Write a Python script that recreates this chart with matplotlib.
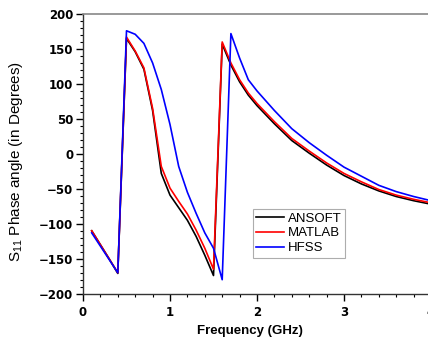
import matplotlib
matplotlib.use("Agg")
import matplotlib.pyplot as plt
from matplotlib.ticker import MultipleLocator

plt.rcParams['font.family'] = ['Liberation Sans', 'DejaVu Sans']
plt.rcParams['mathtext.fontset'] = 'custom'
plt.rcParams['mathtext.rm'] = 'Liberation Sans'

freq = [0.1, 0.2, 0.3, 0.4, 0.5, 0.6, 0.7, 0.8, 0.9, 1.0, 1.1, 1.2, 1.3, 1.4, 1.5,
        1.6, 1.7, 1.8, 1.9, 2.0, 2.2, 2.4, 2.6, 2.8, 3.0, 3.2, 3.4, 3.6, 3.8, 4.0, 4.2, 4.4]

ansoft = [-110, -130, -150, -171, 165, 146, 121, 62, -28, -59, -77, -95, -118, -145, -174,
          157, 127, 103, 84, 69, 43, 19, 1, -16, -31, -43, -53, -61, -67, -72, -76, -80]
matlab = [-110, -130, -150, -170, 167, 147, 123, 65, -18, -49, -68, -86, -109, -135, -165,
          160, 130, 106, 87, 72, 46, 22, 4, -13, -28, -40, -51, -59, -65, -70, -74, -78]
hfss = [-113, -132, -151, -170, 176, 171, 158, 130, 92, 42, -18, -55, -85, -113, -135,
        -180, 172, 137, 106, 90, 62, 36, 16, -2, -19, -32, -45, -54, -61, -67, -72, -76]

series_names = ['ANSOFT', 'MATLAB', 'HFSS']
series_colors = ['black', 'red', 'blue']

W, H = 428, 349
fig = plt.figure(figsize=(W / 100, H / 100), dpi=100)
left, bottom, top = 83, 55.3, 335
xmax = 4.5
width = 87 * xmax
ax = fig.add_axes([left / W, bottom / H, width / W, (top - bottom) / H])

for vals, name, col in zip([ansoft, matlab, hfss], series_names, series_colors):
    ax.plot(freq, vals, color=col, lw=1.2, label=name)

ax.set_xlim(0, xmax)
ax.set_ylim(-200, 200)
ax.xaxis.set_major_locator(MultipleLocator(1))
ax.xaxis.set_minor_locator(MultipleLocator(0.2))
ax.yaxis.set_major_locator(MultipleLocator(50))
ax.yaxis.set_minor_locator(MultipleLocator(10))
ax.tick_params(which='major', direction='out', length=5, width=1, labelsize=8.5, pad=2)
ax.tick_params(axis='x', which='major', pad=3.5)
ax.tick_params(which='minor', direction='out', length=2.5, width=0.8)
for lab in ax.get_xticklabels() + ax.get_yticklabels():
    lab.set_fontweight('bold')
    lab.set_family('DejaVu Sans')

for s in ['left', 'bottom']:
    ax.spines[s].set_linewidth(1.0)
    ax.spines[s].set_color('#333333')
ax.spines['top'].set_color('#888888')
ax.spines['top'].set_linewidth(1.2)

ax.set_xlabel('Frequency (GHz)', fontsize=9.5, fontweight='bold')
ax.xaxis.set_label_coords((250 - left) / width, ((H - 331) - bottom) / (top - bottom))
ax.xaxis.label.set_verticalalignment('center')
ax.set_ylabel(r'S$_{\mathregular{11}}$ Phase angle (in Degrees)', fontsize=11)
ax.yaxis.set_label_coords((16 - left) / width, (H - 162 - bottom) / (top - bottom))
ax.yaxis.label.set_verticalalignment('center')

leg = fig.legend(loc='upper left', bbox_to_anchor=(253 / W, 1 - 209 / H),
                 fontsize=9.5, frameon=True, fancybox=False, borderaxespad=0,
                 handlelength=2.1, handletextpad=0.3, labelspacing=0.2, borderpad=0.25)
leg.get_frame().set_edgecolor('#999999')
leg.get_frame().set_linewidth(0.8)

fig.savefig('out.png', dpi=100)
